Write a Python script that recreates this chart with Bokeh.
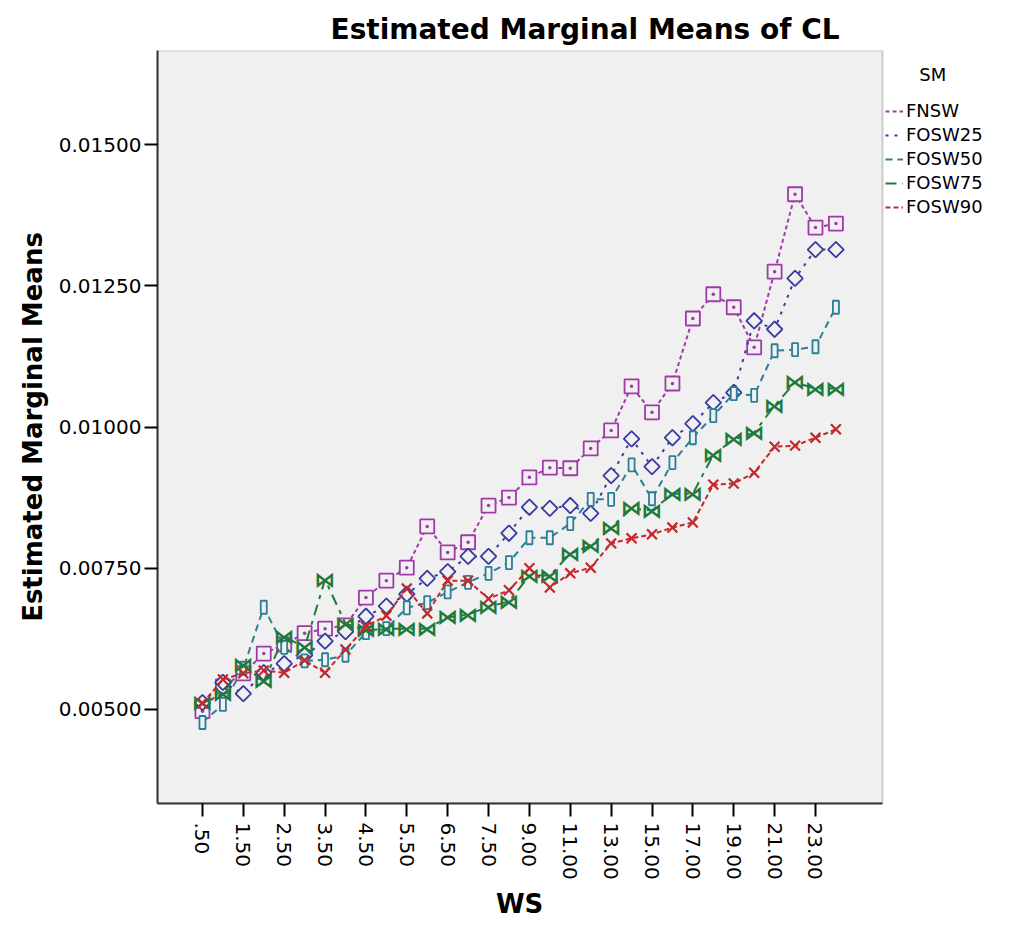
import math
from bokeh.plotting import figure
from bokeh.models import (Range1d, FixedTicker, NumeralTickFormatter, Legend,
                          LegendItem, ColumnDataSource, BoxAnnotation)
from bokeh.core.properties import value
from bokeh.embed import file_html
from bokeh.resources import INLINE

# ---- data -------------------------------------------------------------
ws_labels = [".50", "1.00", "1.50", "2.00", "2.50", "3.00", "3.50", "4.00",
             "4.50", "5.00", "5.50", "6.00", "6.50", "7.00", "7.50", "8.00",
             "9.00", "10.00", "11.00", "12.00", "13.00", "14.00", "15.00", "16.00",
             "17.00", "18.00", "19.00", "20.00", "21.00", "22.00", "23.00", "24.00"]

fnsw = [0.00497, 0.00541, 0.00564, 0.00599, 0.00615, 0.00635, 0.00643, 0.00649,
        0.00698, 0.00728, 0.00751, 0.00824, 0.00778, 0.00796, 0.00861, 0.00875,
        0.00911, 0.00928, 0.00927, 0.00962, 0.00994, 0.01072, 0.01026, 0.01077,
        0.01192, 0.01235, 0.01212, 0.01141, 0.01275, 0.01412, 0.01353, 0.01360]

fosw25 = [0.00512, 0.00548, 0.00528, 0.00565, 0.00581, 0.00596, 0.00621, 0.00638,
          0.00665, 0.00683, 0.00704, 0.00732, 0.00744, 0.00771, 0.00771, 0.00812,
          0.00858, 0.00856, 0.00861, 0.00847, 0.00914, 0.00979, 0.00930, 0.00981,
          0.01006, 0.01043, 0.01061, 0.01188, 0.01173, 0.01263, 0.01314, 0.01314]

fosw50 = [0.00477, 0.00509, 0.00573, 0.00681, 0.00610, 0.00586, 0.00588, 0.00596,
          0.00636, 0.00643, 0.00680, 0.00689, 0.00708, 0.00725, 0.00741, 0.00760,
          0.00804, 0.00804, 0.00829, 0.00872, 0.00872, 0.00933, 0.00873, 0.00937,
          0.00981, 0.01020, 0.01059, 0.01056, 0.01135, 0.01137, 0.01142, 0.01212]

fosw75 = [0.00511, 0.00528, 0.00578, 0.00550, 0.00629, 0.00610, 0.00730, 0.00652,
          0.00640, 0.00643, 0.00643, 0.00643, 0.00663, 0.00668, 0.00682, 0.00691,
          0.00737, 0.00737, 0.00776, 0.00790, 0.00822, 0.00856, 0.00852, 0.00882,
          0.00882, 0.00951, 0.00978, 0.00990, 0.01038, 0.01079, 0.01068, 0.01068]

fosw90 = [0.00511, 0.00553, 0.00564, 0.00569, 0.00565, 0.00587, 0.00565, 0.00606,
          0.00647, 0.00666, 0.00714, 0.00670, 0.00728, 0.00728, 0.00696, 0.00711,
          0.00750, 0.00716, 0.00741, 0.00751, 0.00794, 0.00803, 0.00810, 0.00822,
          0.00831, 0.00898, 0.00900, 0.00919, 0.00965, 0.00967, 0.00981, 0.00996]

series_names = ["FNSW", "FOSW25", "FOSW50", "FOSW75", "FOSW90"]
legend_title = "SM"
x_title = "WS"
y_title = "Estimated Marginal Means"
y_ticks = [0.005, 0.0075, 0.010, 0.0125, 0.015]

# ---- styling / layout ---------------------------------------------------
FONT = "DejaVu Sans"
BG = "#f0f0f0"
NBSP = "\u00a0"
colors = ["#a03aa8", "#3a3aa0", "#2a7f96", "#1e7a3c", "#c2282c"]
dashes = ["4 3", "3 6", "7 5", "11 6 4 6", "5 3"]

X_LO, X_HI = -2.2, 33.28        # extent of the grey plotting box (category index)
Y_LO, Y_HI = 0.003336, 0.016664
FRAME_L, BOX_R, FIG_W = 157, 882, 1008
# the frame continues to the right edge so that the legend is not clipped
x_end = X_LO + (FIG_W - FRAME_L) * (X_HI - X_LO) / (BOX_R - FRAME_L)

x_idx = list(range(len(ws_labels)))

p = figure(width=FIG_W, height=922, output_backend="svg", toolbar_location=None,
           x_range=Range1d(X_LO, x_end), y_range=Range1d(Y_LO, Y_HI),
           min_border_left=FRAME_L, min_border_right=0, min_border_top=50,
           min_border_bottom=119)

p.background_fill_color = "white"
p.border_fill_color = "white"
p.outline_line_color = None
p.xgrid.visible = False
p.ygrid.visible = False

p.add_layout(BoxAnnotation(left=X_LO, right=X_HI, bottom=Y_LO, top=Y_HI,
                           fill_color=BG, fill_alpha=1.0,
                           line_color="#6a6a6a", line_width=2, level="underlay"))

p.title.text = "Estimated Marginal Means of CL"
p.title.text_font = FONT
p.title.text_font_size = "28px"
p.title.text_font_style = "bold"
p.title.text_color = "black"
p.title.align = "left"
p.title.offset = 173
p.title.standoff = 10

# x axis
xa = p.xaxis[0]
xa.bounds = (X_LO, X_HI)
xa.ticker = FixedTicker(ticks=x_idx[::2])
xa.major_label_overrides = {i: ws_labels[i] for i in x_idx[::2]}
xa.major_label_orientation = -math.pi / 2
xa.major_label_text_font = FONT
xa.major_label_text_font_size = "20px"
xa.major_label_text_color = "black"
xa.major_label_standoff = 6
xa.major_tick_out = 13
xa.major_tick_in = 0
xa.major_tick_line_width = 2
xa.minor_tick_line_color = None
xa.axis_line_width = 2
xa.axis_line_color = "#333333"
# trailing no-break spaces keep the title centred under the grey box
xa.axis_label = x_title + NBSP * 14
xa.axis_label_text_font = FONT
xa.axis_label_text_font_size = "26px"
xa.axis_label_text_font_style = "bold"
xa.axis_label_text_color = "black"
xa.axis_label_standoff = 6

# y axis
ya = p.yaxis[0]
ya.ticker = FixedTicker(ticks=y_ticks)
ya.formatter = NumeralTickFormatter(format="0.00000")
ya.major_label_text_font = FONT
ya.major_label_text_font_size = "20px"
ya.major_label_text_color = "black"
ya.major_label_standoff = 3
ya.major_tick_out = 13
ya.major_tick_in = 0
ya.major_tick_line_width = 2
ya.minor_tick_line_color = None
ya.axis_line_width = 2
ya.axis_line_color = "#333333"
ya.axis_label = y_title
ya.axis_label_text_font = FONT
ya.axis_label_text_font_size = "26px"
ya.axis_label_text_font_style = "bold"
ya.axis_label_text_color = "black"
ya.axis_label_standoff = 8

all_vals = [fnsw, fosw25, fosw50, fosw75, fosw90]
line_renderers = []
for name, vals, c, d in zip(series_names, all_vals, colors, dashes):
    src = ColumnDataSource(dict(x=x_idx, y=vals))
    r = p.line("x", "y", source=src, line_color=c, line_width=2, line_dash=d)
    line_renderers.append(r)
    if name == "FNSW":
        p.scatter("x", "y", source=src, marker="square_dot", size=14,
                  fill_color=BG, line_color=c, line_width=1.8)
    elif name == "FOSW25":
        p.scatter("x", "y", source=src, marker="square", angle=math.pi / 4,
                  size=11, fill_color=BG, line_color=c, line_width=1.8)
    elif name == "FOSW50":
        p.rect("x", "y", source=src, width=6, height=13, width_units="screen",
               height_units="screen", fill_color=BG, line_color=c, line_width=1.8)
    elif name == "FOSW75":
        p.text("x", "y", source=src, text=value("\u22c8"), text_color=c,
               text_align="center", text_baseline="middle",
               text_font=value(FONT), text_font_size="21px", text_font_style="bold")
    else:
        p.scatter("x", "y", source=src, marker="x", size=14,
                  line_color=c, line_width=2.2)

legend = Legend(items=[LegendItem(label=n, renderers=[r])
                       for n, r in zip(series_names, line_renderers)],
                location=(BOX_R - FRAME_L + 3, 586))
legend.title = NBSP * 6 + legend_title
legend.title_text_font = FONT
legend.title_text_font_size = "18px"
legend.title_text_font_style = "normal"
legend.title_text_color = "black"
legend.title_standoff = 15
legend.label_text_font = FONT
legend.label_text_font_size = "18px"
legend.label_text_color = "black"
legend.glyph_width = 18
legend.glyph_height = 18
legend.label_height = 20
legend.spacing = 3
legend.padding = 0
legend.margin = 0
legend.label_standoff = 3
legend.background_fill_alpha = 0
legend.border_line_alpha = 0
p.add_layout(legend)

open("out.html", "w").write(file_html(p, INLINE))
